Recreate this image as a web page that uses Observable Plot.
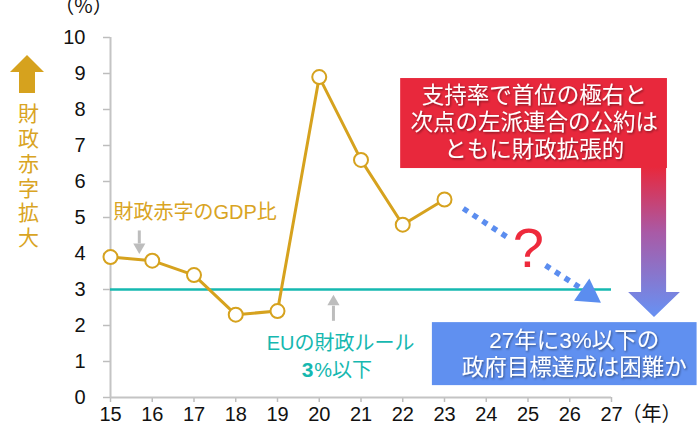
<!DOCTYPE html>
<html><head><meta charset="utf-8">
<script src="https://cdn.jsdelivr.net/npm/d3@7"></script>
<script src="https://cdn.jsdelivr.net/npm/@observablehq/plot@0.6"></script>
<style>
html,body{margin:0;padding:0;background:#fff;}
#chart{width:700px;height:432px;overflow:hidden;position:relative;}
</style></head><body><div id="chart"></div>
<script>
// ---- data ----
const years = [15,16,17,18,19,20,21,22,23];
const deficitRatio = [3.9,3.8,3.4,2.3,2.4,8.9,6.6,4.8,5.5];
const xTicks = [15,16,17,18,19,20,21,22,23,24,25,26,27];
const yTicks = [0,1,2,3,4,5,6,7,8,9,10];
const euRule = 3;
const targetYear = 27;
const axisTitleY = "（%）";
const axisTitleX = "（年）";
const sideLabel = ["財","政","赤","字","拡","大"];
const seriesLabel = "財政赤字のGDP比";
const ruleLabel = "EUの財政ルール";
const ruleValueBold = "3";
const ruleValueRest = "%以下";
const questionMark = "?";
const redBoxLines = ["支持率で首位の極右と","次点の左派連合の公約は","ともに財政拡張的"];
const blueBoxLines = ["27年に3%以下の","政府目標達成は困難か"];
// forecast (dotted) arrow in data coordinates
const forecastSegments = [
  {x1:23.45, y1:5.25, x2:24.52, y2:4.44},
  {x1:25.42, y1:3.67, x2:26.45, y2:2.9}
];
const forecastHead = {x:26.44, y:2.875};

const gold = "#d6a21e";
const goldText = "#d9a423";
const teal = "#16b8b0";
const red = "#e8283c";
const blue = "#6090f0";
const gray = "#bdbdbd";
const jp = '"Liberation Sans","Noto Sans CJK JP",sans-serif';

const series = years.map((y,i)=>({year:y, value:deficitRatio[i]}));

const chart = Plot.plot({
  width:700, height:432,
  marginLeft:110, marginRight:89, marginTop:37, marginBottom:35,
  style:{fontFamily:jp, fontSize:"20px", color:"#000", background:"#fff", overflow:"visible"},
  x:{domain:[15,27]},
  y:{domain:[0,10]},
  marks:[
    Plot.axisY(yTicks, {tickSize:7, tickPadding:18, fontSize:20, stroke:gray, strokeWidth:1.5, fill:"#111", label:null}),
    Plot.axisX(xTicks, {tickSize:5, tickPadding:4, fontSize:20, stroke:gray, strokeWidth:1.5, fill:"#111", label:null, tickFormat:d=>String(d)}),
    Plot.ruleX([15], {y1:0, y2:10, stroke:"#c4c4c4", strokeWidth:2}),
    Plot.ruleY([0], {x1:15, x2:targetYear, stroke:"#c4c4c4", strokeWidth:2}),
    Plot.text([axisTitleY], {frameAnchor:"top-left", dx:-27, dy:-31, text:d=>d, fontSize:20, fill:"#111", lineAnchor:"middle", textAnchor:"middle", fontFamily:'"Noto Sans CJK JP",sans-serif'}),
    Plot.text([axisTitleX], {x:targetYear, y:0, text:d=>d, dx:10, dy:17, fontSize:20, fill:"#111", textAnchor:"start", lineAnchor:"middle", fontFamily:'"Noto Sans CJK JP",sans-serif'}),
    // EU rule line
    Plot.ruleY([euRule], {x1:15, x2:targetYear, stroke:teal, strokeWidth:2.5}),
    // series
    Plot.line(series, {x:"year", y:"value", stroke:gold, strokeWidth:3}),
    Plot.dot(series, {x:"year", y:"value", r:7, fill:"white", stroke:gold, strokeWidth:2}),
    // forecast dotted arrow
    Plot.link(forecastSegments, {x1:"x1", y1:"y1", x2:"x2", y2:"y2", stroke:"#5b8def", strokeWidth:5.5, strokeDasharray:"5.5,6", strokeLinecap:"butt"}),
    Plot.dot([forecastHead], {x:"x", y:"y", symbol:"triangle", r:10, fill:"#5b8def", stroke:"none", rotate:124.5}),
    Plot.text([questionMark], {x:25.01, y:4.12, text:d=>d, fontSize:56, fill:"#ee2a3c", fontFamily:'"Liberation Sans",sans-serif', textAnchor:"middle", lineAnchor:"middle"}),
    // series label + arrow
    Plot.text([seriesLabel], {x:15.07, y:5.13, text:d=>d, fontSize:20, fill:goldText, textAnchor:"start", lineAnchor:"middle"}),
    Plot.link([{x:15.69, y1:4.64, y2:4.28}], {x1:"x", x2:"x", y1:"y1", y2:"y2", stroke:gray, strokeWidth:3}),
    Plot.dot([{x:15.69, y:4.18}], {x:"x", y:"y", symbol:"triangle", r:4.5, fill:gray, rotate:180}),
    // EU rule label + arrow
    Plot.link([{x:20.34, y1:2.13, y2:2.55}], {x1:"x", x2:"x", y1:"y1", y2:"y2", stroke:gray, strokeWidth:3}),
    Plot.dot([{x:20.34, y:2.66}], {x:"x", y:"y", symbol:"triangle", r:4.5, fill:gray}),
    Plot.text([ruleLabel], {x:20.51, y:1.5, text:d=>d, fontSize:20, fill:teal, textAnchor:"middle", lineAnchor:"middle"}),
    Plot.text([ruleValueBold], {x:19.86, y:0.75, text:d=>d, fontSize:21, fontWeight:"bold", fill:teal, textAnchor:"end", lineAnchor:"middle"}),
    Plot.text([ruleValueRest], {x:19.88, y:0.75, text:d=>d, fontSize:20, fill:teal, textAnchor:"start", lineAnchor:"middle"}),
    // boxes
    Plot.rect([{x1:21.95, x2:28.34, y1:6.36, y2:8.86}], {x1:"x1", x2:"x2", y1:"y1", y2:"y2", fill:red}),
    Plot.rect([{x1:22.71, x2:29.05, y1:0.33, y2:2.08}], {x1:"x1", x2:"x2", y1:"y1", y2:"y2", fill:blue}),
    Plot.text([redBoxLines.join("\n")], {x:25.15, y:7.68, text:d=>d, fontSize:22.5, lineHeight:1.2, fill:"#fff", textAnchor:"middle", lineAnchor:"middle", fontFamily:'"Noto Sans CJK JP",sans-serif'}),
    Plot.text([blueBoxLines.join("\n")], {x:26.11, y:1.23, text:d=>d, fontSize:22.5, lineHeight:1.2, fill:"#fff", textAnchor:"middle", lineAnchor:"middle", fontFamily:'"Liberation Sans","Noto Sans CJK JP",sans-serif'}),
    // side label
    Plot.text([sideLabel.join("\n")], {x:15, y:6.17, dx:-82, text:d=>d, fontSize:21, lineHeight:1.18, fill:goldText, textAnchor:"middle", lineAnchor:"middle", fontFamily:'"Noto Sans CJK JP",sans-serif'})
  ]
});

const svg = d3.select(chart);
const sx = chart.scale("x").apply, sy = chart.scale("y").apply;
const defs = svg.insert("defs", ":first-child");
const grad = defs.append("linearGradient").attr("id","gradArrow").attr("gradientUnits","userSpaceOnUse")
  .attr("x1",0).attr("x2",0).attr("y1", sy(6.39)).attr("y2", sy(2.35));
grad.append("stop").attr("offset","0%").attr("stop-color", red);
grad.append("stop").attr("offset","45%").attr("stop-color","#a95aa6");
grad.append("stop").attr("offset","100%").attr("stop-color","#6a8ff0");
const filt = defs.append("filter").attr("id","tshadow").attr("x","-10%").attr("y","-10%").attr("width","120%").attr("height","130%");
filt.append("feDropShadow").attr("dx",1).attr("dy",1.2).attr("stdDeviation",0.8).attr("flood-color","#000").attr("flood-opacity",0.45);

// gradient down arrow (red box -> blue box)
const sL = sx(27.72), sR = sx(28.32), hL = sx(27.41), hR = sx(28.65), tipX = sx(28.03);
const shaftTop = sy(6.39), headBase = sy(2.92), tipY = sy(2.22);
svg.append("path").attr("d", `M${sL},${shaftTop}L${sR},${shaftTop}L${sR},${headBase}L${hR},${headBase}L${tipX},${tipY}L${hL},${headBase}L${sL},${headBase}Z`).attr("fill","url(#gradArrow)");

// gold up arrow on the left
const acx = sx(15) - 83, ay = sy(10);
svg.append("path").attr("d", `M${acx},${ay+18}L${acx+17},${ay+35}L${acx+8},${ay+35}L${acx+8},${ay+56}L${acx-8},${ay+56}L${acx-8},${ay+35}L${acx-17},${ay+35}Z`).attr("fill", gold);

// shadow on box texts
svg.selectAll("text").each(function(){
  const t = this.textContent;
  if (redBoxLines.some(l=>t.includes(l)) || blueBoxLines.some(l=>t.includes(l))) {
    d3.select(this).attr("filter","url(#tshadow)");
  }
});

document.getElementById("chart").appendChild(chart);
</script></body></html>
